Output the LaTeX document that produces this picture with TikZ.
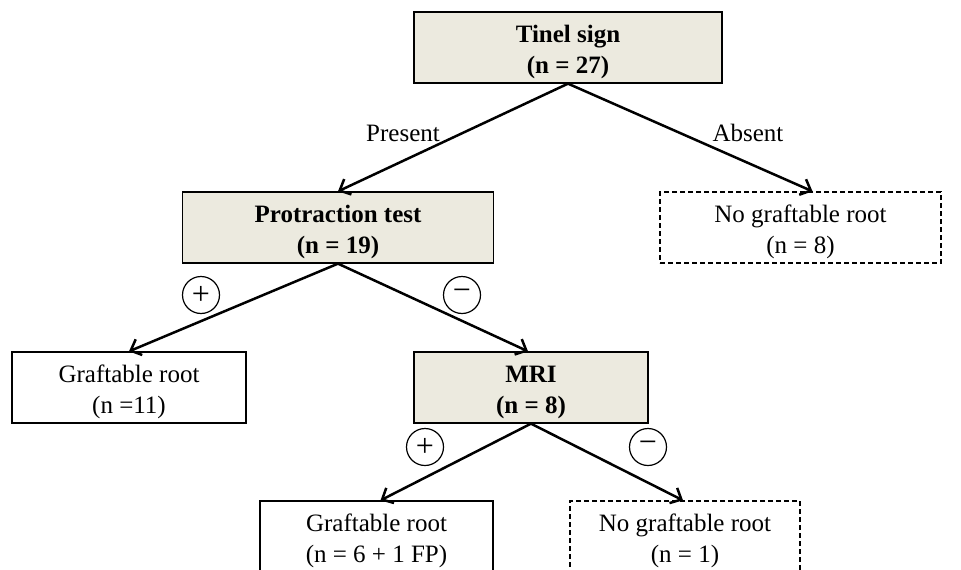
\documentclass[tikz,border=0pt]{standalone}
\usepackage{fontspec}
\setmainfont{Liberation Serif}
\usetikzlibrary{arrows.meta, positioning}
\definecolor{testgray}{RGB}{236,234,223}

\begin{document}
\begin{tikzpicture}[
    x=1pt, y=-1pt,
    every node/.style={font=\fontsize{25}{31}\selectfont},
    testbox/.style={rectangle, draw, line width=1.3pt, fill=testgray,
                minimum height=71pt, inner sep=0pt, align=center,
                execute at begin node={\rule{0pt}{58pt}},
                font=\fontsize{25}{31}\selectfont\bfseries},
    rootbox/.style={rectangle, draw, line width=1.3pt, fill=white,
                minimum height=71pt, inner sep=0pt, align=center,
                execute at begin node={\rule{0pt}{58pt}}},
    noroot/.style={rootbox, dash pattern=on 5pt off 3pt},
    arrow/.style={-{Straight Barb[length=9pt,width=17pt]}, line width=2.5pt},
    sign/.style={circle, draw, line width=1.2pt, minimum size=37pt,
                inner sep=0pt, font=\fontsize{32}{32}\selectfont}
]
\clip (0,0) rectangle (961,570);

\node[testbox, minimum width=308pt] (tinel) at (568,47.5) {Tinel sign\\(n = 27)};
\node[testbox, minimum width=311pt] (protract) at (338,227.5) {Protraction test\\(n = 19)};
\node[noroot, minimum width=281pt] (noroot1) at (800.5,227.5) {No graftable root\\(n = 8)};
\node[rootbox, minimum width=234pt] (root1) at (129,387.5) {Graftable root\\(n =11)};
\node[testbox, minimum width=234pt] (mri) at (531,387.5) {MRI\\(n = 8)};
\node[rootbox, minimum width=233pt] (root2) at (376.5,536.5) {Graftable root\\(n = 6 + 1 FP)};
\node[noroot, minimum width=230pt] (noroot2) at (685,536.5) {No graftable root\\(n = 1)};

\draw[arrow] (tinel.south) -- (protract.north);
\draw[arrow] (tinel.south) -- ([xshift=12pt]noroot1.north);
\draw[arrow] (protract.south) -- (root1.north);
\draw[arrow] (protract.south) -- ([xshift=-3pt]mri.north);
\draw[arrow] (mri.south) -- ([xshift=4pt]root2.north);
\draw[arrow] (mri.south) -- ([xshift=-2pt]noroot2.north);

\node (present) at (403,133) {Present};
\node (absent) at (748,133) {Absent};

\node[sign] (pplus) at (201,295) {+};
\node[sign] (pminus) at (462,295) {−};
\node[sign] (mplus) at (425,447) {+};
\node[sign] (mminus) at (648,447) {−};

\end{tikzpicture}
\end{document}
